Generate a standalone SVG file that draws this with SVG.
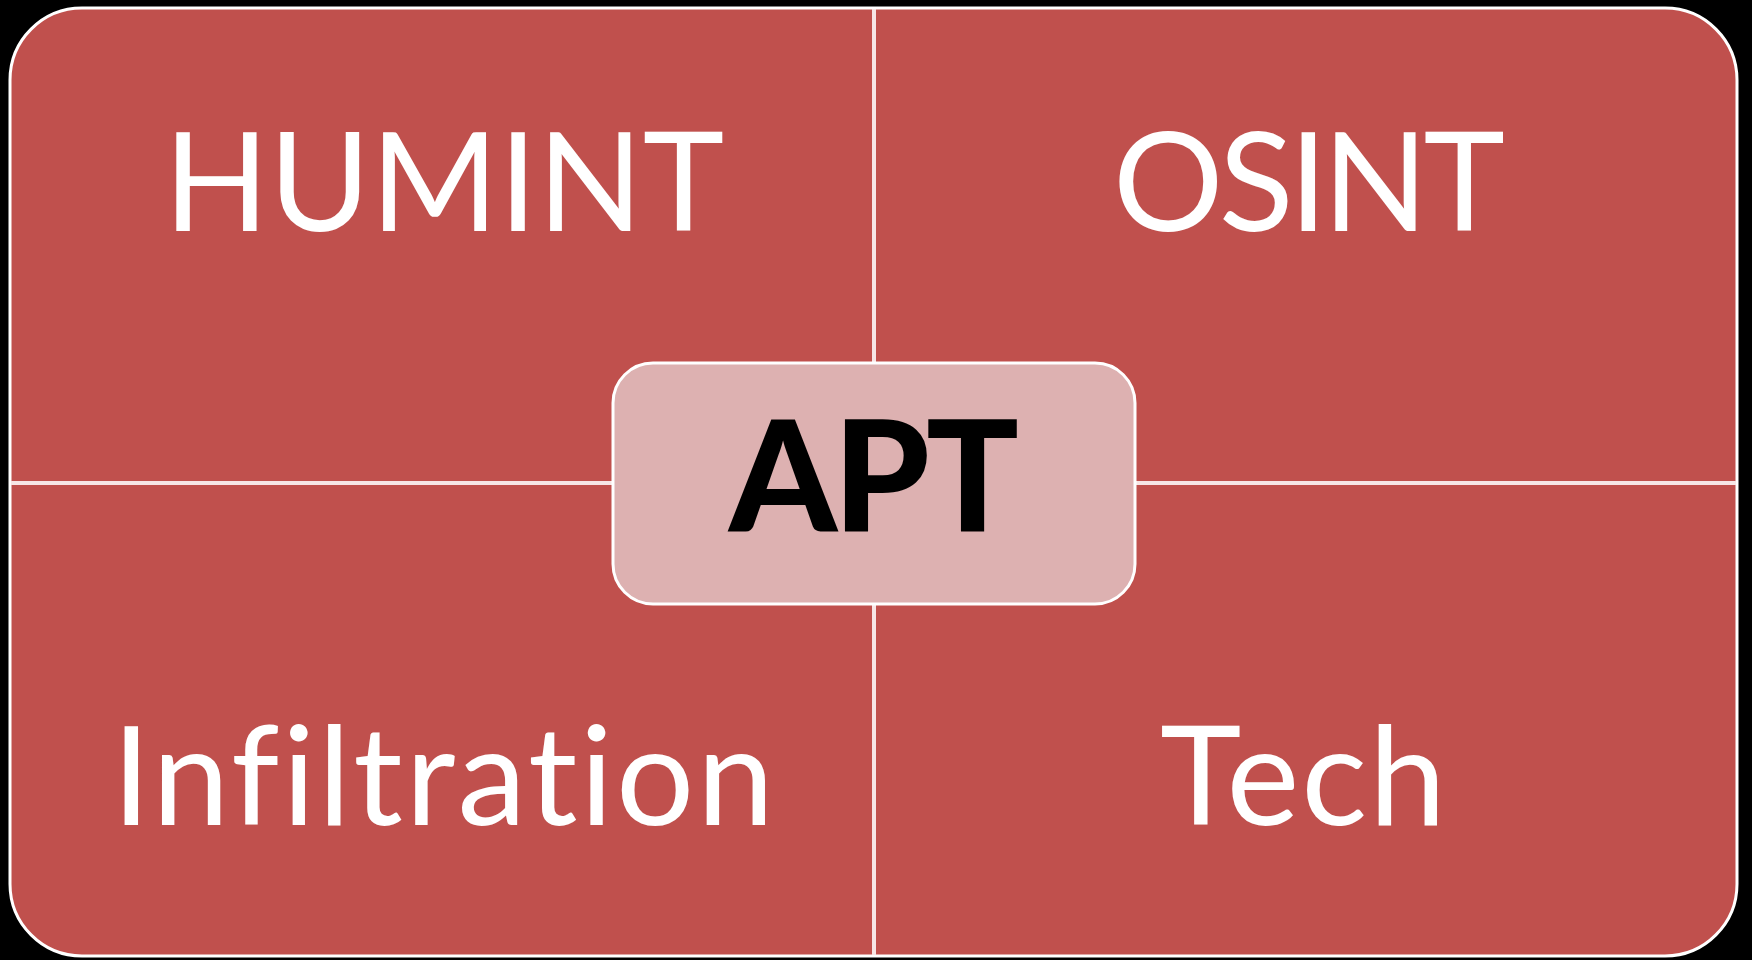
<svg xmlns="http://www.w3.org/2000/svg" width="1752" height="960" viewBox="0 0 1752 960">
  <style>
    .quad { font-family: Lato, "Open Sans", "Liberation Sans", sans-serif; font-size: 138px; fill: #ffffff; text-anchor: middle; font-variant-ligatures: none; }
    .center { font-family: Lato, "Open Sans", "Liberation Sans", sans-serif; font-size: 154px; font-weight: 900; fill: #000000; text-anchor: middle; }
    .divider { stroke: #f7e6e6; stroke-width: 4; fill: none; }
  </style>
  <rect x="0" y="0" width="1752" height="960" fill="#000000"/>
  <g id="panel">
    <rect x="10" y="8" width="1727" height="948" rx="72" ry="72" fill="#C0504D" stroke="#ffffff" stroke-width="3"/>
  </g>
  <g id="connectors">
    <line class="divider" x1="874" y1="9" x2="874" y2="955"/>
    <line class="divider" x1="11" y1="483" x2="1736" y2="483"/>
  </g>
  <g id="humint">
    <text class="quad" x="444" y="231">HUMINT</text>
  </g>
  <g id="osint">
    <text class="quad" x="1309" y="231" textLength="392" lengthAdjust="spacing">OSINT</text>
  </g>
  <g id="infiltration">
    <text class="quad" x="443" y="825" textLength="662" lengthAdjust="spacing">Infiltration</text>
  </g>
  <g id="tech">
    <text class="quad" x="1303" y="825" textLength="286" lengthAdjust="spacing">Tech</text>
  </g>
  <g id="apt">
    <rect x="613" y="363" width="522" height="241" rx="40" ry="40" fill="#DDB1B1" stroke="#ffffff" stroke-width="3"/>
    <text class="center" x="874" y="532" textLength="290" lengthAdjust="spacing">APT</text>
  </g>
</svg>
